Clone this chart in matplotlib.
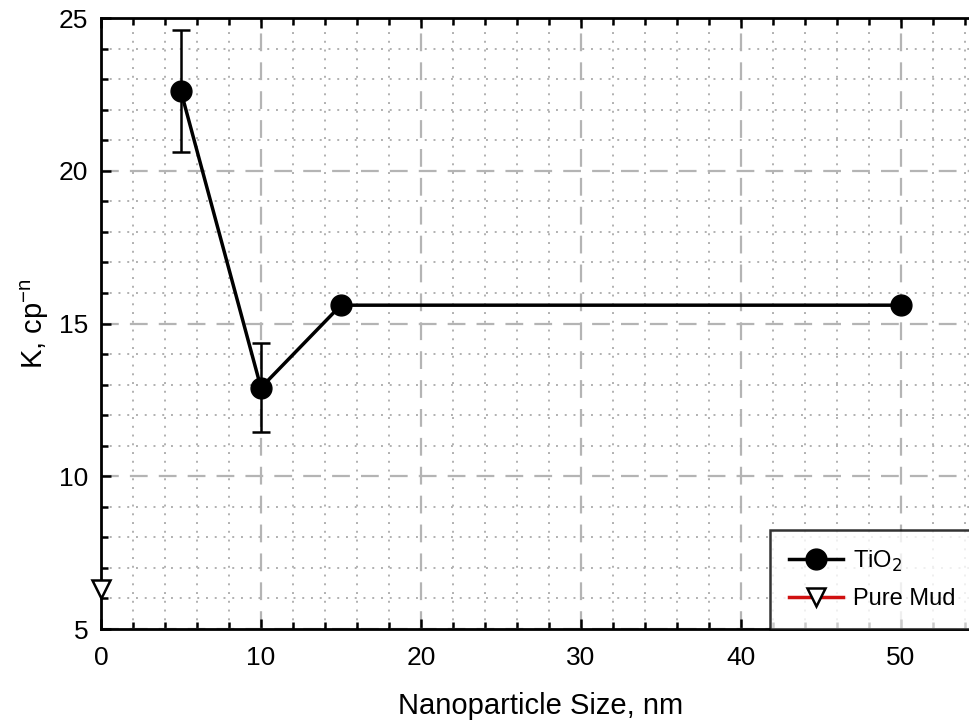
import matplotlib.pyplot as plt
from matplotlib.ticker import MultipleLocator

plt.rcParams['font.family'] = ['Liberation Sans', 'DejaVu Sans']

# TiO2 nanoparticle series
size_nm = [5, 10, 15, 50]
k_tio2 = [22.6, 12.9, 15.6, 15.6]
k_err = [2.0, 1.45, 0.0, 0.0]

# base mud without nanoparticles
mud_size = [0]
mud_k = [6.3]

fig = plt.figure(figsize=(9.7, 7.24), dpi=100)
ax = fig.add_axes([0.1041, 0.1312, 0.907, 0.8439])

ax.set_xlim(0, 55)
ax.set_ylim(5, 25)
ax.xaxis.set_major_locator(MultipleLocator(10))
ax.xaxis.set_minor_locator(MultipleLocator(2))
ax.yaxis.set_major_locator(MultipleLocator(5))
ax.yaxis.set_minor_locator(MultipleLocator(1))

ax.grid(which='major', color='#b4b4b4', linestyle=(0, (8, 5)), linewidth=1.6)
ax.grid(which='minor', color='#b0b0b0', linestyle=(0, (1, 3.5)), linewidth=1.4)
ax.set_axisbelow(True)

ax.tick_params(which='both', direction='in', top=True, right=False,
               width=1.8, labelsize=19)
ax.tick_params(axis='x', pad=12)
ax.tick_params(axis='y', pad=9)
ax.tick_params(which='major', length=7)
ax.tick_params(which='minor', length=5)
for side in ['left', 'bottom', 'top']:
    ax.spines[side].set_linewidth(2)
ax.spines['right'].set_visible(False)

ax.errorbar(size_nm, k_tio2, yerr=[k_err, k_err],
            fmt='none', ecolor='black', elinewidth=1.8, capsize=6.5, capthick=1.8)
ax.plot(size_nm, k_tio2, color='black', linewidth=2.5, marker='o',
        markersize=15, label='TiO$_2$', zorder=4)
ax.plot(mud_size, mud_k, color='#d01010', linewidth=2.5, marker='v',
        markersize=13, markerfacecolor='white', markeredgecolor='black',
        markeredgewidth=1.8, label='Pure Mud', clip_on=False, zorder=5)

ax.set_xlabel('Nanoparticle Size, nm', fontsize=21, labelpad=16)
ax.set_ylabel('K, cp$^{\\mathregular{-n}}$', fontsize=21, labelpad=6)

leg = ax.legend(loc='lower left', bbox_to_anchor=(0.760, 0.0), fontsize=17,
                frameon=True, fancybox=False, edgecolor='black',
                handlelength=2.3, handletextpad=0.45, borderpad=0.8,
                labelspacing=0.6, borderaxespad=0.0)
leg.get_frame().set_linewidth(1.8)

fig.savefig('out.png', dpi=100)
